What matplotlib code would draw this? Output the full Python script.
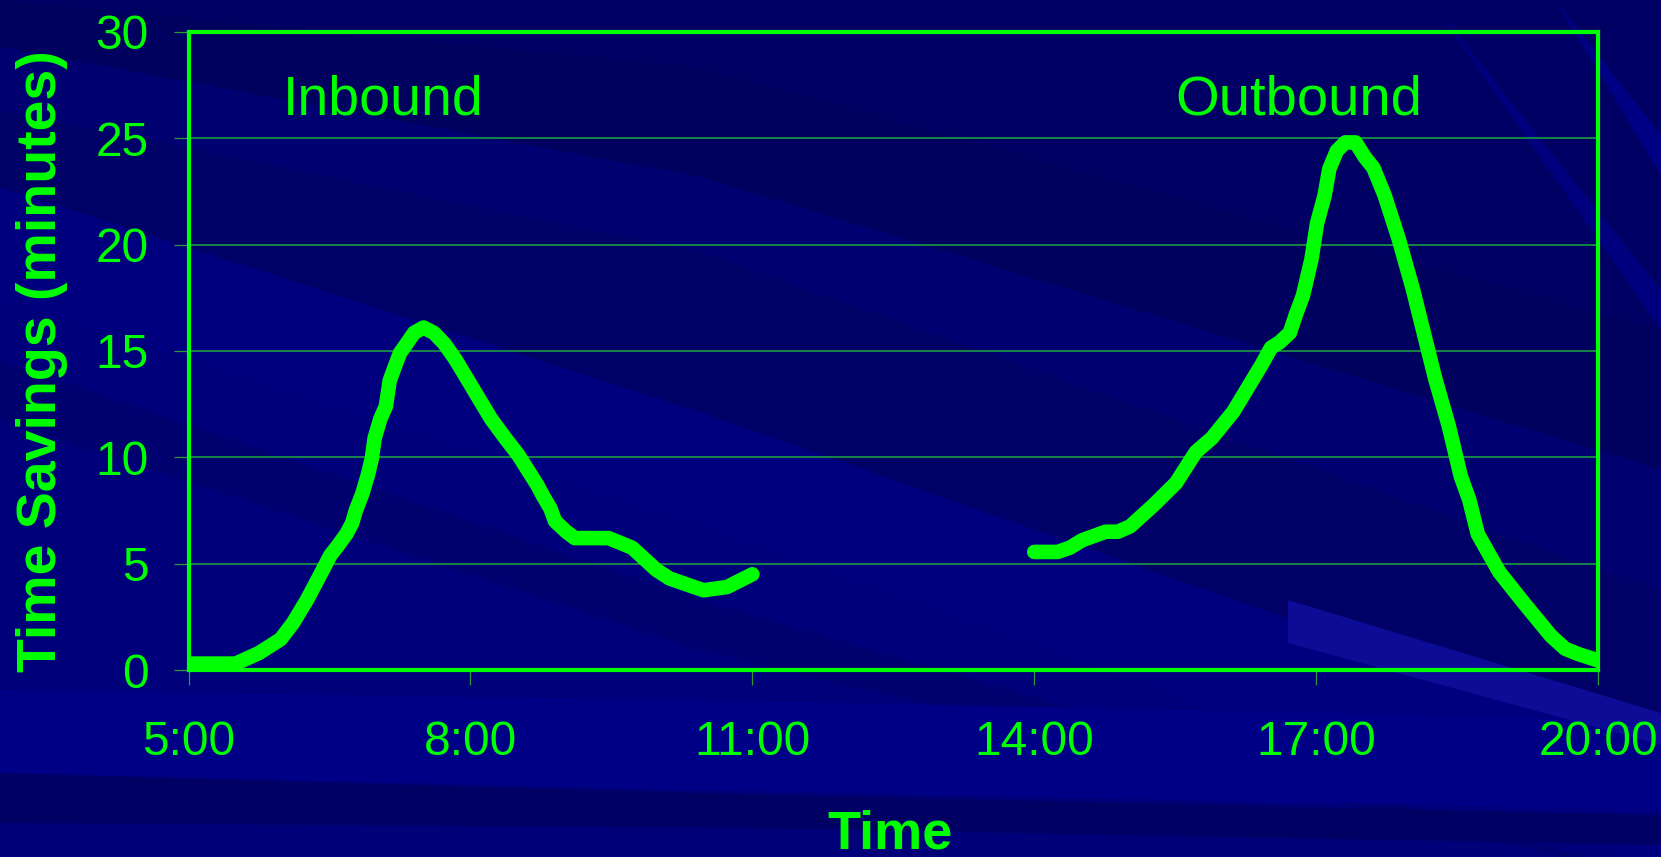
import matplotlib
matplotlib.use('Agg')
import matplotlib.pyplot as plt
from matplotlib.patches import Polygon

# data (hour of day, minutes saved)
inbound_hours = [5.00, 5.50, 5.75, 5.98, 6.11, 6.26, 6.38, 6.51, 6.59, 6.68, 6.74, 6.78,
                 6.85, 6.91, 6.95, 6.98, 7.04, 7.10, 7.14, 7.19, 7.25, 7.33, 7.40, 7.50,
                 7.61, 7.72, 7.84, 8.03, 8.22, 8.37, 8.51, 8.71, 8.77, 8.85, 8.90, 9.02,
                 9.11, 9.47, 9.72, 9.98, 10.12, 10.48, 10.73, 11.00]
inbound_mins = [0.3, 0.3, 0.8, 1.45, 2.2, 3.3, 4.3, 5.4, 5.85, 6.4, 6.9, 7.5,
                8.3, 9.2, 9.95, 10.9, 11.8, 12.4, 13.6, 14.2, 14.9, 15.4, 15.85, 16.1,
                15.85, 15.35, 14.6, 13.2, 11.8, 10.9, 10.1, 8.7, 8.2, 7.6, 7.0, 6.5,
                6.2, 6.2, 5.75, 4.7, 4.3, 3.75, 3.9, 4.5]

outbound_hours = [14.00, 14.25, 14.38, 14.51, 14.76, 14.89, 15.02, 15.27, 15.51, 15.72,
                  15.89, 16.12, 16.27, 16.42, 16.52, 16.61, 16.72, 16.78, 16.86, 16.95,
                  17.01, 17.09, 17.14, 17.22, 17.31, 17.42, 17.52, 17.61, 17.73, 17.88,
                  18.03, 18.12, 18.27, 18.41, 18.54, 18.63, 18.72, 18.86, 18.95, 19.13,
                  19.22, 19.50, 19.65, 19.79, 20.00]
outbound_mins = [5.55, 5.55, 5.75, 6.1, 6.5, 6.5, 6.75, 7.75, 8.8, 10.25,
                 10.9, 12.15, 13.25, 14.35, 15.15, 15.4, 15.85, 16.65, 17.6, 19.3,
                 21.0, 22.3, 23.55, 24.4, 24.8, 24.8, 24.1, 23.6, 22.3, 20.25,
                 17.9, 16.3, 13.65, 11.5, 9.1, 8.0, 6.4, 5.3, 4.6, 3.6,
                 3.1, 1.6, 1.0, 0.75, 0.45]

tick_hours = [5, 8, 11, 14, 17, 20]
tick_labels = ['5:00', '8:00', '11:00', '14:00', '17:00', '20:00']
y_ticks = [0, 5, 10, 15, 20, 25, 30]

GREEN = '#00ff00'
plt.rcParams['font.family'] = ['Liberation Sans', 'DejaVu Sans']

W, H = 1661, 857
fig = plt.figure(figsize=(W / 100, H / 100), dpi=100)
fig.patch.set_facecolor('#000078')


def band(top, bot, color, xs=(0, 700, W)):
    # diagonal stripe of the slide background, given in pixels from the top
    pts = [(x / W, 1 - y / H) for x, y in zip(xs, top)]
    pts += [(x / W, 1 - y / H) for x, y in zip(xs[::-1], bot[::-1])]
    fig.add_artist(Polygon(pts, closed=True, transform=fig.transFigure,
                           facecolor=color, edgecolor='none', zorder=-10))


band((-10, -10, -10), (0, 67, 330), '#000064')
band((0, 67, 330), (47, 177, 470), '#00005e')
band((47, 177, 470), (110, 252, 590), '#000070')
band((110, 252, 590), (187, 412, 750), '#000066')
band((187, 412, 750), (300, 526, 870), '#00007f')
band((300, 526, 870), (690, 700, 880), '#00007a')
band((360, 600, 880), (420, 650, 880), '#00006e')
band((690, 700, 720), (773, 790, 810), '#000086')
band((773, 793, 815), (823, 827, 845), '#000064')
band((0, 0, 135), (0, 0, 175), '#000084', xs=(1520, 1555, W))
band((0, 0, 290), (0, 0, 330), '#00007e', xs=(1400, 1430, W))
band((600, 713), (643, 745), '#0c0c96', xs=(1288, W))

ax = fig.add_axes([188.6 / W, 1 - 670 / H, 1409.4 / W, 638.2 / H])
ax.set_facecolor('none')

ax.yaxis.grid(True, color='#1fa83f', lw=1.1)
ax.set_axisbelow(True)

ax.plot(inbound_hours, inbound_mins, color=GREEN, lw=10.5,
        solid_joinstyle='round', solid_capstyle='round')
ax.plot(outbound_hours, outbound_mins, color=GREEN, lw=10.5,
        solid_joinstyle='round', solid_capstyle='round')

ax.text(6.0, 26.1, 'Inbound', fontsize=40, color=GREEN, va='baseline', ha='left')
ax.text(15.5, 26.1, 'Outbound', fontsize=40.5, color=GREEN, va='baseline', ha='left')

ax.set_xlim(5, 20)
ax.set_ylim(0, 30)
ax.set_xticks(tick_hours)
ax.set_xticklabels(tick_labels)
ax.set_yticks(y_ticks)
ax.tick_params(color='#2a9a3a', labelcolor=GREEN, length=10.8, width=0.9,
               labelsize=34.5, direction='out')
ax.tick_params(axis='x', pad=25)
ax.tick_params(axis='y', pad=18)

for s in ax.spines.values():
    s.set_color(GREEN)
    s.set_linewidth(3)

ax.set_ylabel('Time Savings (minutes)', fontsize=40, fontweight='bold', color=GREEN)
ax.yaxis.set_label_coords(-0.104, 0.484)
ax.yaxis.label.set_va('center')
ax.set_xlabel('Time', fontsize=39, fontweight='bold', color=GREEN)
ax.xaxis.set_label_coords(0.498, -0.279)
ax.xaxis.label.set_va('baseline')

fig.savefig('out.png', dpi=100, facecolor=fig.get_facecolor())
